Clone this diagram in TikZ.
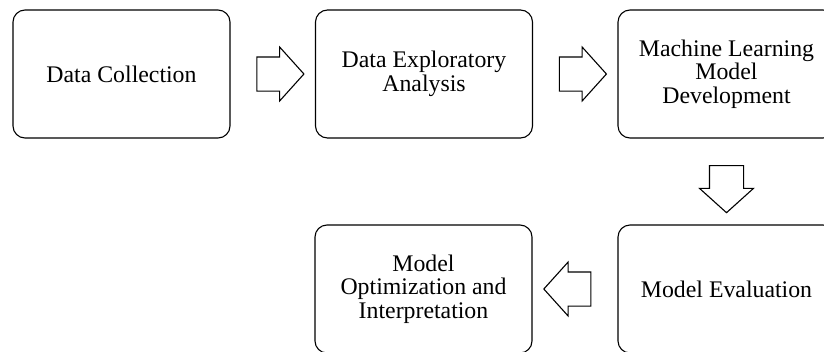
\documentclass[tikz,border=0pt]{standalone}
\usepackage{fontspec}
\setmainfont{Liberation Serif}
\usetikzlibrary{shapes.arrows,calc}

\begin{document}
\begin{tikzpicture}[
  x=1pt, y=-1pt,
  stagebox/.style={rectangle, draw, line width=1.1pt, rounded corners=12pt,
    minimum width=217pt, minimum height=128pt, align=center,
    font=\fontsize{23.8}{23.5}\selectfont},
  blockarr/.style={single arrow, draw, line width=1.1pt, inner xsep=0pt,
    inner ysep=16.5pt, minimum height=47pt, single arrow head extend=10pt,
    single arrow tip angle=96}
]
\useasboundingbox (0,0) rectangle (824,351);

% Top row
\node[stagebox] (collect) at (121.5, 74) {Data Collection};
\node[stagebox] (explore) at (424, 74) {Data Exploratory\\Analysis};
\node[stagebox] (develop) at (726.5, 74) {Machine Learning\\Model\\Development};

% Bottom row
\node[stagebox] (evaluate) at (726.5, 289) {Model Evaluation};
\node[stagebox] (optimize) at (423.5, 289) {Model\\Optimization and\\Interpretation};

% Block arrows between the stages
\node[blockarr] (a1) at ($(collect.east)!0.5!(explore.west)$) {};
\node[blockarr] (a2) at ($(explore.east)!0.5!(develop.west)$) {};
\node[blockarr, rotate=-90] (a3) at ($(develop.south)!0.5!(evaluate.north)$) {};
\node[blockarr, rotate=180] (a4) at ($(evaluate.west)!0.5!(optimize.east)$) {};

\end{tikzpicture}
\end{document}
